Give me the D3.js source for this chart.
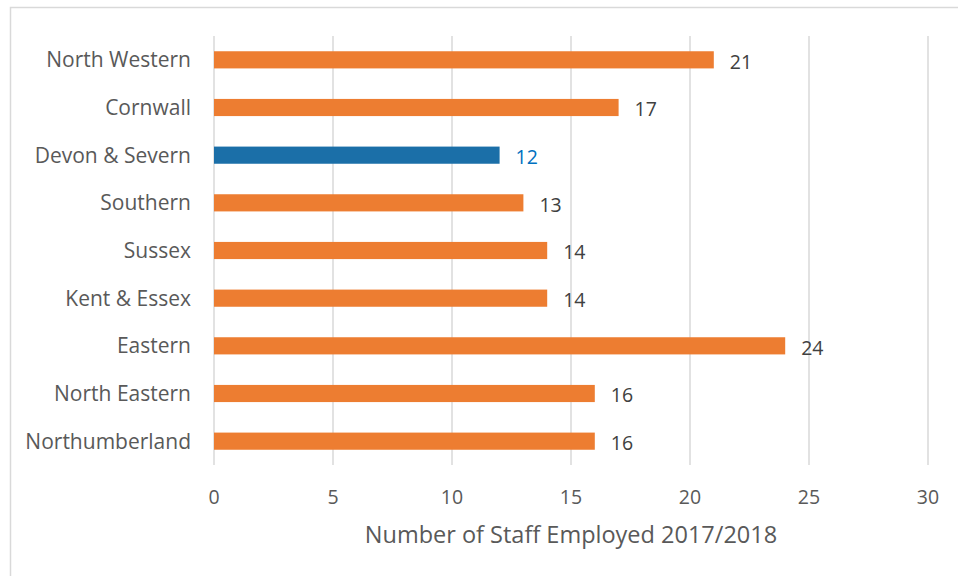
<!DOCTYPE html>
<html>
<head>
<meta charset="utf-8">
<script src="https://cdn.jsdelivr.net/npm/d3@7"></script>
<style>
body{margin:0;background:#fff;}
text{font-family:"Open Sans",sans-serif;}
</style>
</head>
<body>
<div id="chart"></div>
<script>
var w=958;
var h=576;

var regions=["North Western","Cornwall","Devon & Severn","Southern","Sussex","Kent & Essex","Eastern","North Eastern","Northumberland"];
var staff=[21,17,12,13,14,14,24,16,16];
var highlight="Devon & Severn";
var xTicks=[0,5,10,15,20,25,30];
var xTitle="Number of Staff Employed 2017/2018";

var svg=d3.select("#chart").append("svg")
          .attr("width",w)
          .attr("height",h);

// outer chart border (runs off the right/bottom)
svg.append("rect")
   .attr("x",10.5).attr("y",7.5)
   .attr("width",w).attr("height",h)
   .attr("fill","none")
   .attr("stroke","#d9d9d9")
   .attr("stroke-width",1.5);

var x=d3.scaleLinear().domain([0,30]).range([214,928]);
var y=d3.scaleBand().domain(regions).range([36,465]).paddingInner(0.64).paddingOuter(0.32);

// gridlines
svg.append("g").selectAll("line")
   .data(xTicks)
   .enter().append("line")
   .attr("x1",function(d){return x(d);})
   .attr("x2",function(d){return x(d);})
   .attr("y1",36).attr("y2",465)
   .attr("stroke","#d9d9d9")
   .attr("stroke-width",1.5);

// tick labels
svg.append("g").selectAll("text")
   .data(xTicks)
   .enter().append("text")
   .attr("x",function(d){return x(d);})
   .attr("y",497)
   .attr("dy","0.35em")
   .attr("text-anchor","middle")
   .attr("fill","#595959")
   .style("font-size","19.5px")
   .text(function(d){return d;});

// bars
svg.append("g").selectAll("rect")
   .data(regions)
   .enter().append("rect")
   .attr("x",x(0))
   .attr("y",function(d){return y(d);})
   .attr("width",function(d,i){return x(staff[i])-x(0);})
   .attr("height",y.bandwidth())
   .attr("fill",function(d){return d===highlight?"#1b6fa8":"#ed7d31";});

// category labels
svg.append("g").selectAll("text")
   .data(regions)
   .enter().append("text")
   .attr("x",191)
   .attr("y",function(d){return y(d)+y.bandwidth()/2;})
   .attr("dy","0.35em")
   .attr("text-anchor","end")
   .attr("fill","#595959")
   .style("font-size","21px")
   .text(function(d){return d;});

// value labels
svg.append("g").selectAll("text")
   .data(regions)
   .enter().append("text")
   .attr("x",function(d,i){return x(staff[i])+16;})
   .attr("y",function(d){return y(d)+y.bandwidth()/2+2;})
   .attr("dy","0.35em")
   .attr("fill",function(d){return d===highlight?"#0070c0":"#404040";})
   .style("font-size","19.5px")
   .text(function(d,i){return staff[i];});

// axis title
svg.append("text")
   .attr("x",571)
   .attr("y",535)
   .attr("dy","0.35em")
   .attr("text-anchor","middle")
   .attr("fill","#595959")
   .style("font-size","23.5px")
   .text(xTitle);
</script>
</body>
</html>
